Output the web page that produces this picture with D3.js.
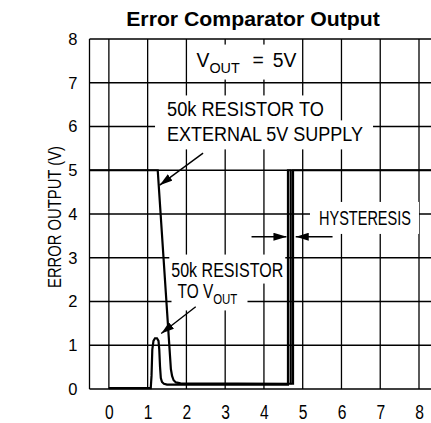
<!DOCTYPE html>
<html>
<head>
<meta charset="utf-8">
<script src="https://cdn.jsdelivr.net/npm/d3@7"></script>
<style>
  body { margin: 0; background: #fff; }
  text { font-family: "Liberation Sans", Arial, sans-serif; fill: #000; }
</style>
</head>
<body>
<div id="chart"></div>
<script>
// tick values for both axes
const xTicks = [0, 1, 2, 3, 4, 5, 6, 7, 8];
const yTicks = [0, 1, 2, 3, 4, 5, 6, 7, 8];

// 50k resistor to external 5V supply
const extX = [-0.5, 1.26, 1.60, 1.63, 1.67, 1.73, 1.85, 4.75, 4.75, 8.5];
const extY = [5, 5, 0.45, 0.3, 0.2, 0.15, 0.13, 0.12, 5, 5];

// 50k resistor to VOUT
const voutX = [0, 1.08, 1.10, 1.12, 1.15, 1.19, 1.24, 1.28, 1.30, 1.32, 1.34, 1.37, 1.42, 1.5, 4.62, 4.62, 4.69, 4.69];
const voutY = [0.02, 0.02, 0.3, 0.9, 1.1, 1.16, 1.16, 1.1, 0.9, 0.5, 0.25, 0.16, 0.12, 0.1, 0.1, 5, 5, 0.11];

const width = 431, height = 423;

const svg = d3.select("#chart")
    .append("svg")
    .attr("width", width)
    .attr("height", height);

const x = d3.scaleLinear()
    .domain([-0.5, 8])
    .range([89.5, 419]);

const y = d3.scaleLinear()
    .domain([0, 8])
    .range([389, 39]);

// arrow head
svg.append("defs").append("marker")
    .attr("id", "head")
    .attr("markerUnits", "userSpaceOnUse")
    .attr("viewBox", "0 0 13 8")
    .attr("markerWidth", 13)
    .attr("markerHeight", 8)
    .attr("refX", 13)
    .attr("refY", 4)
    .attr("orient", "auto")
    .append("path")
    .attr("d", "M0,0 L13,4 L0,8 Z")
    .attr("fill", "#000");

// grid
const grid = svg.append("g").attr("stroke", "#000").attr("stroke-width", 1.3);

grid.selectAll(".v")
    .data(xTicks)
    .join("line")
    .attr("x1", d => x(d)).attr("x2", d => x(d))
    .attr("y1", y(8)).attr("y2", y(0));

grid.selectAll(".h")
    .data(yTicks)
    .join("line")
    .attr("x1", x(-0.5)).attr("x2", x(8.4))
    .attr("y1", d => y(d)).attr("y2", d => y(d));

grid.append("line") // left border
    .attr("x1", x(-0.5)).attr("x2", x(-0.5))
    .attr("y1", y(8)).attr("y2", y(0));

const boxes = svg.append("g");
const curves = svg.append("g");
const notes = svg.append("g");

const line = d3.line()
    .x(d => x(d[0]))
    .y(d => y(d[1]));

curves.append("path")
    .datum(extX.map((v, i) => [v, extY[i]]))
    .attr("d", line)
    .attr("fill", "none")
    .attr("stroke", "#000")
    .attr("stroke-width", 2.2);

curves.append("path")
    .datum(voutX.map((v, i) => [v, voutY[i]]))
    .attr("d", line)
    .attr("fill", "none")
    .attr("stroke", "#000")
    .attr("stroke-width", 2.2);

// axes
const xAxis = svg.append("g")
    .attr("transform", `translate(0,${y(0)})`)
    .call(d3.axisBottom(x).tickValues(xTicks).tickSize(0).tickPadding(16));
xAxis.select(".domain").remove();
xAxis.selectAll("text")
    .style("font-size", "19.5px")
    .attr("fill", "#000")
    .attr("transform", "scale(0.8,1)"); // narrow lettering, centred on the tick

const yAxis = svg.append("g")
    .attr("transform", `translate(${x(-0.5)},0)`)
    .call(d3.axisLeft(y).tickValues(yTicks).tickSize(0).tickPadding(12));
yAxis.select(".domain").remove();
yAxis.selectAll("text").style("font-size", "16.5px").attr("fill", "#000");

// squeeze a text to a given width (the original lettering is narrow)
function squeeze(t, X, Y, w, rot) {
    let b = t.node().getBBox();
    let sx = w / b.width;
    t.attr("transform", `translate(${X},${Y})${rot ? " rotate(" + rot + ")" : ""} scale(${sx},1)`);
    return {b, sx};
}

let yl = svg.append("text")
    .attr("text-anchor", "middle")
    .style("font-size", "19px")
    .text("ERROR OUTPUT (V)");
squeeze(yl, 61, (y(0) + y(8)) / 2 + 3, 142, -90);

let title = svg.append("text")
    .attr("text-anchor", "middle")
    .style("font-size", "20.5px")
    .style("font-weight", "bold")
    .text("Error Comparator Output");
squeeze(title, 253, 25.5, 254);

// annotation text with a white box behind it
function note(px, py, w, parts, pad) {
    let t = notes.append("text")
        .style("font-size", "19.5px");
    for (let p of parts) {
        let s = t.append("tspan").text(p.t);
        if (p.sub) s.style("font-size", "14.5px").attr("dy", 6);
        if (p.up) s.attr("dy", -6);
        if (p.dx) s.attr("dx", p.dx);
    }
    let X = x(px), Y = y(py);
    let {b, sx} = squeeze(t, X, Y, w);
    boxes.append("rect")
        .attr("x", X + b.x * sx - pad[0])
        .attr("y", Y + b.y - pad[1])
        .attr("width", b.width * sx + pad[0] + pad[2])
        .attr("height", b.height + pad[1] + pad[3])
        .attr("fill", "#fff");
}

note(2.26, 7.37, 100, [{t: "V"}, {t: "OUT", sub: true}, {t: "=", up: true, dx: 13}, {t: "5V", dx: 9}], [8, 4, 4, 4]);
note(1.5, 6.23, 157, [{t: "50k RESISTOR TO"}], [12, 3, 10, 3]);
note(1.5, 5.66, 196, [{t: "EXTERNAL 5V SUPPLY"}], [12, 3, 10, 4]);
note(5.42, 3.75, 92, [{t: "HYSTERESIS"}], [9, 5, 8, 5]);
note(1.61, 2.57, 112, [{t: "50k RESISTOR"}], [2, 4, 2, 3]);
note(1.77, 2.07, 60, [{t: "TO V"}, {t: "OUT", sub: true}], [6, 3, 10, 3]);

// arrows
const arrows = [
    [2.43, 5.39, 1.31, 4.66],
    [3.68, 3.48, 4.58, 3.48],
    [5.77, 3.48, 4.82, 3.48],
    [2.24, 1.88, 1.35, 1.27]
];

notes.selectAll(".arrow")
    .data(arrows)
    .join("line")
    .attr("x1", d => x(d[0])).attr("y1", d => y(d[1]))
    .attr("x2", d => x(d[2])).attr("y2", d => y(d[3]))
    .attr("stroke", "#000")
    .attr("stroke-width", 1.4)
    .attr("marker-end", "url(#head)");
</script>
</body>
</html>
